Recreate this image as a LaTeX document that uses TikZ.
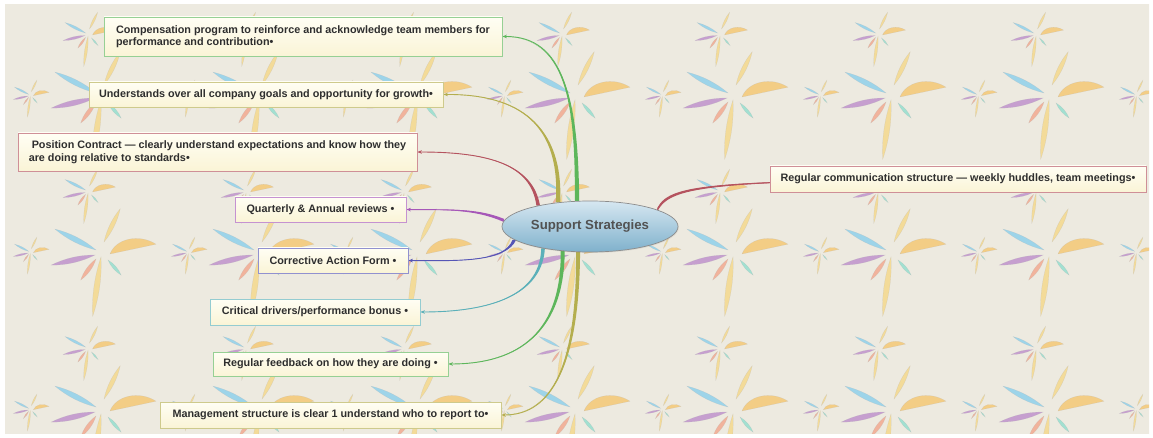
\documentclass[tikz,border=0pt]{standalone}
\usepackage{fontspec}
\setmainfont{Liberation Sans}
\usetikzlibrary{calc,arrows.meta,shapes.geometric,shadows}

\definecolor{paper}{HTML}{EDEAE0}
\definecolor{txt}{HTML}{2E2E2E}
\definecolor{boxtop}{HTML}{FFFEF4}
\definecolor{boxbot}{HTML}{FAF4D6}
\definecolor{hubtop}{HTML}{D6E7F1}
\definecolor{hubbot}{HTML}{7FB1CC}
% branch colours
\definecolor{lgreen}{HTML}{5DB65B}
\definecolor{lolive}{HTML}{B4AE4E}
\definecolor{lrose}{HTML}{B5535F}
\definecolor{lpurple}{HTML}{A657B8}
\definecolor{lblue}{HTML}{5656B6}
\definecolor{lteal}{HTML}{5BB0B9}
% palm colours
\definecolor{pyel}{HTML}{F4DA92}
\definecolor{porg}{HTML}{F4CA7C}
\definecolor{pcyan}{HTML}{95D2EA}
\definecolor{ppur}{HTML}{C297CE}
\definecolor{psal}{HTML}{F2AE95}
\definecolor{pteal}{HTML}{9ADFD0}

\pgfdeclarelayer{back}
\pgfdeclarelayer{links}
\pgfsetlayers{back,links,main}

\tikzset{
  leafpaint/.style={fill=#1, fill opacity=0.9, draw=black!30, line width=0.2pt, draw opacity=0.45},
  topic/.style={draw=#1!65!white, line width=0.8pt, top color=boxtop, bottom color=boxbot,
    text=txt, font=\bfseries\fontsize{10.8}{12.5}\selectfont, align=left, inner sep=0pt,
    drop shadow={opacity=0.12, shadow xshift=0.8pt, shadow yshift=-1pt}},
  hubnode/.style={ellipse, draw=black!45, line width=0.7pt, top color=hubtop, bottom color=hubbot,
    text=black!68, font=\bfseries\fontsize{13.2}{16}\selectfont, inner sep=0pt,
    drop shadow={opacity=0.15, shadow xshift=0.8pt, shadow yshift=-1pt}},
  branchtip/.style={-{Stealth[length=4.5pt,width=3.5pt]}},
}

% one lens-shaped leaf: colour, base point, angle, length, bulge
\newcommand\palmleaf[5]{%
  \path[leafpaint=#1, shift={(#2)}, rotate=#3]
    (0,0) .. controls ({#4/3},{#5}) and ({2*#4/3},{#5}) .. (#4,0)
          .. controls ({2*#4/3},{-#5}) and ({#4/3},{-#5}) .. cycle;}
% one palm: centre x, centre y, scale
\newcommand\palmtree[3]{%
  \begin{scope}[shift={(#1,#2)}, scale=#3]
    \palmleaf{pyel}{-2,5}{262}{60}{3.8}
    \palmleaf{pcyan}{-7,-2}{153}{46}{3.6}
    \palmleaf{ppur}{-8,3}{193}{45}{3.6}
    \palmleaf{psal}{-7,7}{234}{26}{2.8}
    \palmleaf{pteal}{5,8}{-49}{20}{2.2}
    \palmleaf{pyel}{1,-10}{64}{37}{3}
    \path[leafpaint=porg, shift={(7,2)}, rotate=12]
      (0,0) .. controls (9,-14) and (33,-14) .. (47,0) -- cycle;
  \end{scope}}

% tapered branch: colour, start, control 1, control 2, target node, half-thickness vector
\newcommand\branch[6]{%
  \fill[#1] ($(#2)+(#6)$) .. controls ($(#3)+0.6*(#6)$) and (#4) .. (#5.east)
     .. controls (#4) and ($(#3)-0.6*(#6)$) .. ($(#2)-(#6)$) -- cycle;
  \draw[#1, line width=0.9pt, branchtip] (#2) .. controls (#3) and (#4) .. (#5.east);}

\begin{document}
\begin{tikzpicture}[x=1pt, y=-1pt]
\useasboundingbox (0,0) rectangle (1153,438);

% patterned backdrop
\begin{pgfonlayer}{back}
\begin{scope}
  \clip (5,5) rectangle (1149,433);
  \fill[paper] (0,0) rectangle (1153,438);
  \foreach \i in {0,...,7}{
    \foreach \j in {0,...,3}{
      \pgfmathsetmacro\px{-55+158*\i}
      \pgfmathsetmacro\py{-62+157*\j}
      \palmtree{\px}{\py}{1}
      \palmtree{\px-14}{\py-61}{0.5}
      \palmtree{\px+86}{\py}{0.34}
    }}
\end{scope}
\end{pgfonlayer}

% central topic
\node[hubnode, minimum width=176pt, minimum height=51pt] (hub) at (590,226.5) {Support Strategies};

% subtopics
\node[topic=lgreen, minimum width=398pt, minimum height=39pt] (comp) at (303,36.5)
  {Compensation program to reinforce and acknowledge team members for\\performance and contribution•};
\node[topic=lolive, minimum width=354pt, minimum height=25pt] (goals) at (266,94.5)
  {Understands over all company goals and opportunity for growth•};
\node[topic=lrose, minimum width=399pt, minimum height=38pt] (contract) at (217.5,152)
  {\ Position Contract — clearly understand expectations and know how they\\are doing relative to standards•};
\node[topic=lpurple, minimum width=171pt, minimum height=25pt] (reviews) at (320.5,209.5)
  {Quarterly \& Annual reviews •};
\node[topic=lblue, minimum width=150pt, minimum height=25pt] (corrective) at (333,260.5)
  {Corrective Action Form •};
\node[topic=lteal, minimum width=210pt, minimum height=26pt] (bonus) at (315,312)
  {Critical drivers/performance bonus •};
\node[topic=lgreen, minimum width=235pt, minimum height=24pt] (feedback) at (330.5,364)
  {Regular feedback on how they are doing •};
\node[topic=lolive, minimum width=341pt, minimum height=26pt] (mgmt) at (330.5,415)
  {Management structure is clear 1 understand who to report to•};
\node[topic=lrose, minimum width=376pt, minimum height=26pt] (comm) at (958,179)
  {Regular communication structure — weekly huddles, team meetings•};

% branches from the central topic
\begin{pgfonlayer}{links}
\branch{lgreen}{hub.117}{577,100}{565,36}{comp}{2.2,0}
\branch{lolive}{hub.143}{562,125}{520,94}{goals}{2.2,0}
\branch{lrose}{hub.158}{532,165}{490,152}{contract}{1.8,0}
\branch{lpurple}{hub.176}{475,208}{445,210}{reviews}{0,1.6}
\branch{lblue}{hub.190}{505,262}{460,261}{corrective}{1.8,0}
\branch{lteal}{hub.205}{541,300}{480,312}{bonus}{1.8,0}
\branch{lgreen}{hub.222}{563,340}{510,364}{feedback}{2,0}
\branch{lolive}{hub.245}{578,380}{545,415}{mgmt}{2,0}
\branch{lrose}{hub.14}{672,182}{715,179}{comm}{0,1.8}
\end{pgfonlayer}
\end{tikzpicture}
\end{document}
